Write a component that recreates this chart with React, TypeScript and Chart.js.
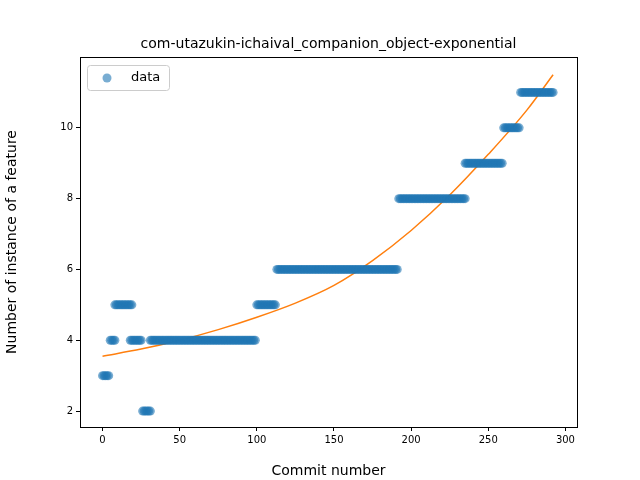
import React, { useEffect, useRef } from "react";
import { Chart, registerables } from "chart.js";
Chart.register(...registerables);

// run-length data: [startCommit, endCommit, value]
const runStarts = [0, 5, 8, 18, 26, 31, 100, 113, 192, 235, 260, 271];
const runEnds = [4, 8, 19, 25, 31, 99, 112, 191, 235, 259, 270, 292];
const runValues = [3, 4, 5, 4, 2, 4, 5, 6, 8, 9, 10, 11];
const fitX = [0, 25, 50, 75, 100, 125, 150, 175, 200, 225, 250, 275, 292];
const fitY = [3.55, 3.75, 4.0, 4.3, 4.65, 5.05, 5.55, 6.25, 7.1, 8.1, 9.25, 10.5, 11.5];
const xTicks = [0, 50, 100, 150, 200, 250, 300];
const yTicks = [2, 4, 6, 8, 10];

const points: { x: number; y: number }[] = [];
runStarts.forEach((s, i) => {
  for (let x = s; x <= runEnds[i]; x++) points.push({ x, y: runValues[i] });
});

const overlay = {
  id: "overlay",
  afterDraw(chart: any) {
    const { ctx, chartArea } = chart;
    ctx.save();
    ctx.fillStyle = "#000";
    ctx.font = "14px 'DejaVu Sans'";
    ctx.textAlign = "center";
    ctx.textBaseline = "bottom";
    ctx.fillText("com-utazukin-ichaival_companion_object-exponential", (chartArea.left + chartArea.right) / 2, chartArea.top - 6);
    // legend box
    const lx = chartArea.left + 7, ly = chartArea.top + 8;
    ctx.strokeStyle = "#ccc";
    ctx.fillStyle = "rgba(255,255,255,0.8)";
    ctx.lineWidth = 1;
    ctx.beginPath();
    ctx.roundRect(lx + 0.5, ly + 0.5, 82, 25, 3);
    ctx.fill();
    ctx.stroke();
    ctx.fillStyle = "rgba(31,119,180,0.6)";
    ctx.beginPath();
    ctx.arc(lx + 20, ly + 13, 4.5, 0, Math.PI * 2);
    ctx.fill();
    ctx.fillStyle = "#000";
    ctx.font = "13px 'DejaVu Sans'";
    ctx.textAlign = "left";
    ctx.textBaseline = "middle";
    ctx.fillText("data", lx + 44, ly + 13);
    // frame
    ctx.strokeStyle = "#000";
    ctx.lineWidth = 1;
    ctx.strokeRect(chartArea.left + 0.5, chartArea.top + 0.5, chartArea.right - chartArea.left, chartArea.bottom - chartArea.top);
    ctx.restore();
  },
};

export default function App() {
  const ref = useRef<HTMLCanvasElement>(null);
  useEffect(() => {
    const chart = new Chart(ref.current!, {
      type: "scatter",
      data: {
        datasets: [
          {
            label: "data",
            data: points,
            backgroundColor: "rgba(31,119,180,0.6)",
            borderWidth: 0,
            pointRadius: 4.5,
          },
          {
            type: "line",
            label: "fit",
            data: fitX.map((x, i) => ({ x, y: fitY[i] })),
            borderColor: "#ff7f0e",
            borderWidth: 1.5,
            pointRadius: 0,
            tension: 0.4,
            cubicInterpolationMode: "monotone",
          } as any,
        ],
      },
      options: {
        animation: false,
        responsive: false,
        layout: { padding: { top: 57, right: 63, left: 0, bottom: 0 } },
        plugins: { legend: { display: false }, tooltip: { enabled: false }, title: { display: false } },
        scales: {
          x: {
            type: "linear",
            min: -14.6,
            max: 307.5,
            afterBuildTicks: (s: any) => { s.ticks = xTicks.map((v) => ({ value: v })); },
            afterFit: (s: any) => { s.height = 53; },
            grid: { drawOnChartArea: false, tickLength: 4, color: "#000" },
            border: { color: "#000" },
            ticks: { color: "#000", font: { family: "DejaVu Sans", size: 10 }, padding: 3 },
            title: { display: true, text: "Commit number", color: "#000", font: { family: "DejaVu Sans", size: 14 }, padding: 0 },
          },
          y: {
            min: 1.55,
            max: 12.0,
            afterBuildTicks: (s: any) => { s.ticks = yTicks.map((v) => ({ value: v })); },
            afterFit: (s: any) => { s.width = 80; },
            grid: { drawOnChartArea: false, tickLength: 4, color: "#000" },
            border: { color: "#000" },
            ticks: { color: "#000", font: { family: "DejaVu Sans", size: 10 }, padding: 3 },
            title: { display: true, text: "Number of instance of a feature", color: "#000", font: { family: "DejaVu Sans", size: 14 }, padding: 4 },
          },
        },
      },
      plugins: [overlay],
    });
    return () => chart.destroy();
  }, []);
  return (
    <div style={{ position: "fixed", left: 0, top: 0, width: 640, height: 480, background: "#fff" }}>
      <canvas ref={ref} width={640} height={480} style={{ width: 640, height: 480 }} />
    </div>
  );
}
